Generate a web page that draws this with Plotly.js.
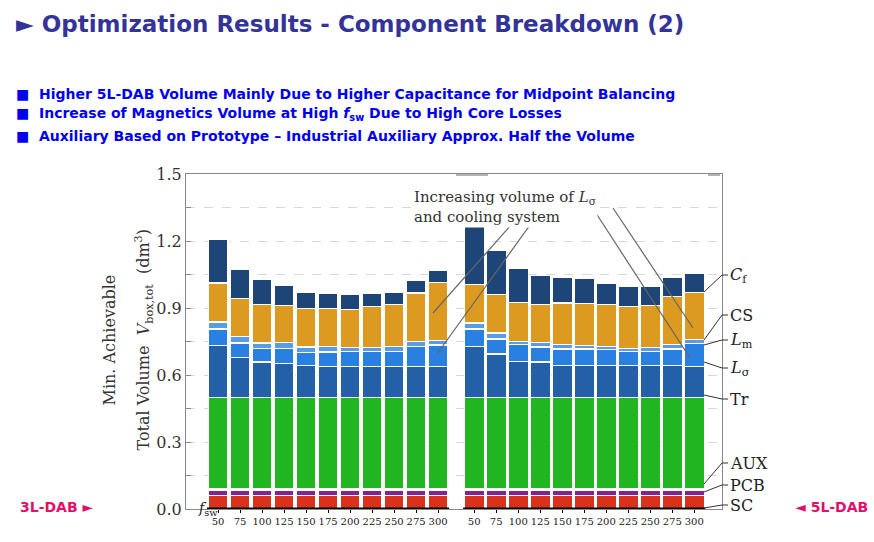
<!DOCTYPE html>
<html>
<head>
<meta charset="utf-8">
<script src="https://cdn.plot.ly/plotly-3.0.1.min.js"></script>
<style>body{margin:0;background:#fff}#chart{width:874px;height:542px}</style>
</head>
<body>
<div id="chart"></div>
<script>
var freqs = ['50', '75', '100', '125', '150', '175', '200', '225', '250', '275', '300'];

// segment heights in dm3, 3L-DAB
var sc3 = [0.06, 0.06, 0.06, 0.06, 0.06, 0.06, 0.06, 0.06, 0.06, 0.06, 0.06];
var pcb3 = [0.025, 0.025, 0.025, 0.025, 0.025, 0.025, 0.025, 0.025, 0.025, 0.025, 0.025];
var aux3 = [0.005, 0.005, 0.005, 0.005, 0.005, 0.005, 0.005, 0.005, 0.005, 0.005, 0.005];
var tr3 = [0.41, 0.41, 0.41, 0.41, 0.41, 0.41, 0.41, 0.41, 0.41, 0.41, 0.41];
var ls3 = [0.231, 0.177, 0.158, 0.153, 0.143, 0.137, 0.138, 0.138, 0.138, 0.138, 0.138];
var lsb3 = [0.075, 0.066, 0.061, 0.066, 0.058, 0.066, 0.069, 0.069, 0.069, 0.090, 0.096];
var lm3 = [0.031, 0.030, 0.024, 0.025, 0.024, 0.023, 0.015, 0.015, 0.021, 0.021, 0.022];
var cs3 = [0.175, 0.169, 0.173, 0.169, 0.173, 0.172, 0.172, 0.185, 0.187, 0.218, 0.257];
var cf3 = [0.194, 0.130, 0.111, 0.087, 0.074, 0.069, 0.067, 0.060, 0.057, 0.055, 0.054];

// segment heights in dm3, 5L-DAB
var sc5 = [0.06, 0.06, 0.06, 0.06, 0.06, 0.06, 0.06, 0.06, 0.06, 0.06, 0.06];
var pcb5 = [0.025, 0.025, 0.025, 0.025, 0.025, 0.025, 0.025, 0.025, 0.025, 0.025, 0.025];
var aux5 = [0.005, 0.005, 0.005, 0.005, 0.005, 0.005, 0.005, 0.005, 0.005, 0.005, 0.005];
var tr5 = [0.41, 0.41, 0.41, 0.41, 0.41, 0.41, 0.41, 0.41, 0.41, 0.41, 0.41];
var ls5 = [0.228, 0.194, 0.161, 0.158, 0.143, 0.143, 0.143, 0.143, 0.143, 0.143, 0.138];
var lsb5 = [0.078, 0.067, 0.074, 0.067, 0.073, 0.073, 0.070, 0.063, 0.063, 0.073, 0.102];
var lm5 = [0.027, 0.027, 0.015, 0.019, 0.019, 0.016, 0.015, 0.014, 0.017, 0.022, 0.018];
var cs5 = [0.171, 0.172, 0.175, 0.171, 0.187, 0.187, 0.187, 0.187, 0.187, 0.214, 0.212];
var cf5 = [0.292, 0.197, 0.154, 0.130, 0.117, 0.112, 0.094, 0.090, 0.087, 0.087, 0.087];

var x3 = freqs.map(function (f, i) { return i; });
var x5 = freqs.map(function (f, i) { return 11.64 + i; });
var xs = x3.concat(x5);

var segs = [
    [sc3, sc5, '#d8321c', 'SC'],
    [pcb3, pcb5, '#8a1f8f', 'PCB'],
    [aux3, aux5, '#ffffff', 'AUX'],
    [tr3, tr5, '#22b522', 'Tr'],
    [ls3, ls5, '#2360a8', 'Lσ'],
    [lsb3, lsb5, '#2a80e0', 'Lσ2'],
    [lm3, lm5, '#5a9de6', 'Lm'],
    [cs3, cs5, '#dc9a20', 'CS'],
    [cf3, cf5, '#1e4577', 'Cf']
];

var data = segs.map(function (s) {
    return {
        type: 'bar',
        x: xs,
        y: s[0].concat(s[1]),
        name: s[3],
        width: 0.9,
        marker: { color: s[2], line: { color: '#ffffff', width: 1.2 } },
        hoverinfo: 'y+name'
    };
});

var serif = 'DejaVu Serif, Liberation Serif, serif';

// reference pixel positions to paper units (plot area 186..722 x 174..509)
function px(x) { return (x - 186) / 536; }
function py(y) { return (509 - y) / 335; }

var shapes = [
    { type: 'line', xref: 'x', yref: 'y', x0: -0.5, x1: 10.5, y0: 0, y1: 0, line: { color: '#000', width: 3 } },
    { type: 'line', xref: 'x', yref: 'y', x0: 11.14, x1: 22.14, y0: 0, y1: 0, line: { color: '#000', width: 3 } },
    { type: 'line', xref: 'paper', yref: 'paper', x0: px(527), y0: py(207), x1: px(433), y1: py(313), line: { color: '#666', width: 1.2 } },
    { type: 'line', xref: 'paper', yref: 'paper', x0: px(543), y0: py(207), x1: px(437), y1: py(354), line: { color: '#666', width: 1.2 } },
    { type: 'line', xref: 'paper', yref: 'paper', x0: px(592), y0: py(207), x1: px(690), y1: py(358), line: { color: '#666', width: 1.2 } },
    { type: 'line', xref: 'paper', yref: 'paper', x0: px(613), y0: py(208), x1: px(693), y1: py(328), line: { color: '#666', width: 1.2 } },
    { type: 'line', xref: 'paper', yref: 'paper', x0: px(456), y0: py(175), x1: px(488), y1: py(175), line: { color: '#666', width: 1 } },
    { type: 'line', xref: 'paper', yref: 'paper', x0: px(708), y0: py(175), x1: px(720), y1: py(175), line: { color: '#666', width: 1 } }
];

// right side labels: [text, label y px, bar y px]
var rightLabels = [
    ['<i>C</i><sub>f</sub>', 275, 292],
    ['CS', 315, 340],
    ['<i>L</i><sub>m</sub>', 340, 345],
    ['<i>L</i><sub>σ</sub>', 368, 362],
    ['Tr', 399, 395],
    ['AUX', 463, 484],
    ['PCB', 485, 492],
    ['SC', 505, 508]
];
var annotations = [];
rightLabels.forEach(function (r) {
    shapes.push({ type: 'line', xref: 'paper', yref: 'paper', x0: px(704), y0: py(r[2]), x1: px(722), y1: py(r[1]), line: { color: '#333', width: 1 } });
    shapes.push({ type: 'line', xref: 'paper', yref: 'paper', x0: px(722), y0: py(r[1]), x1: px(728), y1: py(r[1]), line: { color: '#333', width: 1 } });
    annotations.push({ xref: 'paper', yref: 'paper', x: px(728), y: py(r[1]), text: r[0], showarrow: false, xanchor: 'left', yanchor: 'middle', font: { family: serif, size: 16, color: '#222' } });
});

var bullet = { family: 'DejaVu Sans', size: 14, color: '#0000ee' };
annotations = annotations.concat([
    { xref: 'paper', yref: 'paper', x: px(14), y: py(24), xanchor: 'left', yanchor: 'middle', showarrow: false,
      text: '<b>► Optimization Results - Component Breakdown (2)</b>', font: { family: 'DejaVu Sans', size: 23, color: '#333399' } },
    { xref: 'paper', yref: 'paper', x: px(14), y: py(94), xanchor: 'left', yanchor: 'middle', showarrow: false,
      text: '<b>■  Higher 5L-DAB Volume Mainly Due to Higher Capacitance for Midpoint Balancing</b>', font: bullet },
    { xref: 'paper', yref: 'paper', x: px(14), y: py(114), xanchor: 'left', yanchor: 'middle', showarrow: false,
      text: '<b>■  Increase of Magnetics Volume at High <i>f</i><sub>sw</sub> Due to High Core Losses</b>', font: bullet },
    { xref: 'paper', yref: 'paper', x: px(14), y: py(136), xanchor: 'left', yanchor: 'middle', showarrow: false,
      text: '<b>■  Auxiliary Based on Prototype – Industrial Auxiliary Approx. Half the Volume</b>', font: bullet },
    { xref: 'paper', yref: 'paper', x: px(18), y: py(507), xanchor: 'left', yanchor: 'middle', showarrow: false,
      text: '<b>3L-DAB ►</b>', font: { family: 'DejaVu Sans', size: 14, color: '#e0106a' } },
    { xref: 'paper', yref: 'paper', x: px(870), y: py(507), xanchor: 'right', yanchor: 'middle', showarrow: false,
      text: '<b>◄ 5L-DAB</b>', font: { family: 'DejaVu Sans', size: 14, color: '#e0106a' } },
    { xref: 'paper', yref: 'paper', x: px(598), y: py(186), showarrow: false, align: 'left',
      text: 'Increasing volume of <i>L</i><sub>σ</sub><br>and cooling system', font: { family: serif, size: 15, color: '#333' }, bgcolor: '#fff' },
    { xref: 'paper', yref: 'paper', x: px(196), y: py(520), showarrow: false,
      text: '<i>f</i><sub>sw</sub>', font: { family: serif, size: 14, color: '#222' } },
    { xref: 'paper', yref: 'paper', x: px(97), y: py(340), showarrow: false, textangle: -90,
      text: 'Min. Achievable', font: { family: serif, size: 16, color: '#333' } },
    { xref: 'paper', yref: 'paper', x: px(130), y: py(340), showarrow: false, textangle: -90,
      text: 'Total Volume  <i>V</i><sub>box,tot</sub>  (dm<sup>3</sup>)', font: { family: serif, size: 16, color: '#333' } }
]);

var layout = {
    width: 874,
    height: 542,
    margin: { l: 186, r: 152, t: 174, b: 33 },
    barmode: 'stack',
    showlegend: false,
    paper_bgcolor: '#fff',
    plot_bgcolor: '#fff',
    xaxis: {
        range: [-1.455, 22.9],
        tickvals: xs,
        ticktext: freqs.concat(freqs),
        tickangle: 0,
        tickfont: { family: serif, size: 10, color: '#222' },
        ticks: 'outside', ticklen: 3, tickcolor: '#000',
        showgrid: false, zeroline: false,
        showline: true, linecolor: '#888', mirror: true
    },
    yaxis: {
        range: [0, 1.5],
        tickvals: [0, 0.15, 0.3, 0.45, 0.6, 0.75, 0.9, 1.05, 1.2, 1.35, 1.5],
        ticktext: ['0.0', '', '0.3', '', '0.6', '', '0.9', '', '1.2', '', '1.5'],
        tickfont: { family: serif, size: 16, color: '#333' },
        ticks: 'inside', ticklen: 5, tickcolor: '#888',
        showgrid: true, gridcolor: '#d8d8d8', griddash: 'dash',
        zeroline: false, showline: true, linecolor: '#888', mirror: true
    },
    shapes: shapes,
    annotations: annotations
};

Plotly.newPlot('chart', data, layout, { displayModeBar: false });
</script>
</body>
</html>
